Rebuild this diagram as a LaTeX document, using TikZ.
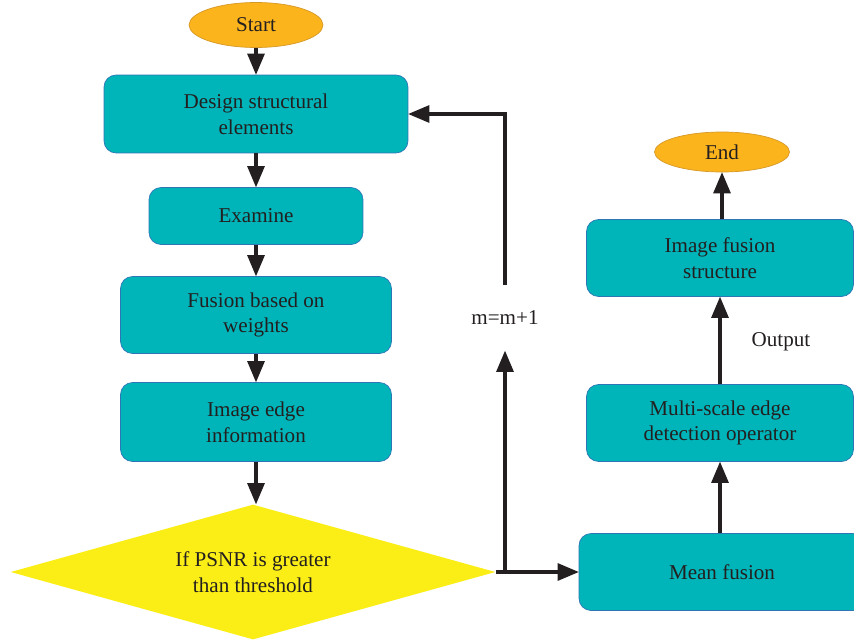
\documentclass[tikz,border=0pt]{standalone}
\usepackage{fontspec}
\setmainfont{Liberation Serif}
\usetikzlibrary{arrows,shapes.geometric}

\definecolor{boxteal}{RGB}{0,181,185}
\definecolor{boxedge}{RGB}{46,117,182}
\definecolor{ovalfill}{RGB}{251,180,28}
\definecolor{ovaledge}{RGB}{214,152,40}
\definecolor{decfill}{RGB}{250,238,22}
\definecolor{arrowink}{RGB}{35,31,32}

\tikzset{
  stepbox/.style={draw=boxedge, fill=boxteal, rounded corners=0.24cm, align=center, font=\fontsize{12}{14.7}\selectfont, text=arrowink},
  terminal/.style={ellipse, draw=ovaledge, fill=ovalfill, font=\fontsize{12}{14.7}\selectfont, text=arrowink, inner sep=0pt},
  decision/.style={diamond, aspect=3.6, fill=decfill, align=center, inner sep=0pt, font=\fontsize{12}{14.7}\selectfont, text=arrowink},
  arr/.style={-triangle 45, line width=1.8pt, draw=arrowink},
  plain/.style={font=\fontsize{12}{14.7}\selectfont, text=arrowink}
}

\begin{document}
\begin{tikzpicture}[x=0.02cm, y=-0.02cm]
  \useasboundingbox (0,0) rectangle (854,642);

  \node [terminal, minimum width=2.68cm, minimum height=0.9cm] (start) at (256,25) {Start};
  \node [stepbox, minimum width=6.08cm, minimum height=1.56cm] (design) at (256,114) {Design structural\\elements};
  \node [stepbox, minimum width=4.28cm, minimum height=1.14cm] (examine) at (256,216) {Examine};
  \node [stepbox, minimum width=5.42cm, minimum height=1.54cm] (fusion) at (256,315) {Fusion based on\\weights};
  \node [stepbox, minimum width=5.42cm, minimum height=1.58cm] (edgeinfo) at (256,422) {Image edge\\information};
  \node [decision, minimum width=9.7cm, minimum height=2.7cm] (psnr) at (253,572) {If PSNR is greater\\than threshold};

  \node [stepbox, minimum width=5.72cm, minimum height=1.54cm] (mean) at (722,572) {Mean fusion};
  \node [stepbox, minimum width=5.34cm, minimum height=1.54cm] (multi) at (720,423) {Multi-scale edge\\detection operator};
  \node [stepbox, minimum width=5.34cm, minimum height=1.54cm] (imgfusion) at (720,258) {Image fusion\\structure};
  \node [terminal, minimum width=2.7cm, minimum height=0.8cm] (finish) at (722,152) {End};

  \node [plain] (output) at (781,342) {Output};
  \node [plain, minimum height=1.3cm] (mlabel) at (505,318) {m=m+1};
  \coordinate (turn) at (505,572);

  \draw [arr] (start) -- (design);
  \draw [arr] (design) -- (examine);
  \draw [arr] (examine) -- (fusion);
  \draw [arr] (fusion) -- (edgeinfo);
  \draw [arr] (edgeinfo.south) -- (edgeinfo.south |- psnr.north);

  \draw [-, line width=1.8pt, draw=arrowink] (psnr.east) -- (turn);
  \draw [arr] (turn) -- (mean.west);
  \draw [arr] (turn) -- (mlabel.south);
  \draw [arr] (mlabel.north) |- (design.east);

  \draw [arr] (mean.north -| multi.south) -- (multi.south);
  \draw [arr] (multi) -- (imgfusion);
  \draw [arr] (imgfusion.north -| finish.south) -- (finish.south);
\end{tikzpicture}
\end{document}
